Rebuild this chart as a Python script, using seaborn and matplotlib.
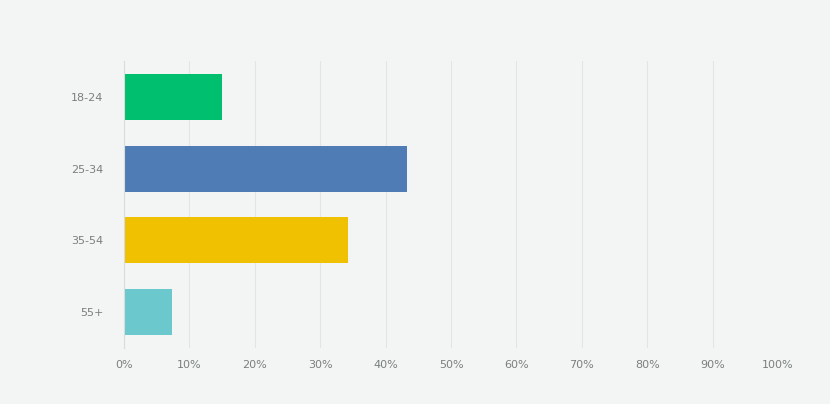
import matplotlib
matplotlib.use("Agg")
import matplotlib.pyplot as plt
from matplotlib.ticker import FuncFormatter
import seaborn as sns
import pandas as pd

age_groups = ["18-24", "25-34", "35-54", "55+"]
shares = [15.0, 43.2, 34.3, 7.3]
bar_colors = ["#00BF6F", "#507CB6", "#F0C100", "#6BC8CD"]
x_ticks = [0, 10, 20, 30, 40, 50, 60, 70, 80, 90, 100]

bg = "#F2F5F3"
sns.set_theme(style="white")
plt.rcParams["font.family"] = ["DejaVu Sans"]

df = pd.DataFrame({"age": age_groups, "share": shares})

fig = plt.figure(figsize=(8.3, 4.04), dpi=100, facecolor=bg)
ax = fig.add_axes([0.1494, 0.139, 0.788, 0.71])
ax.set_facecolor(bg)

sns.barplot(data=df, x="share", y="age", hue="age", palette=bar_colors,
            order=age_groups, hue_order=age_groups, width=0.64,
            legend=False, ax=ax, saturation=1, linewidth=0)

ax.set_xlim(0, 100)
ax.set_xticks(x_ticks)
ax.xaxis.set_major_formatter(FuncFormatter(lambda v, _: f"{v:.0f}%"))
ax.set_xlabel("")
ax.set_ylabel("")
ax.grid(axis="x", color="#E1E5E3", linewidth=0.8)
ax.set_axisbelow(True)
for side in ["top", "right", "bottom"]:
    ax.spines[side].set_visible(False)
ax.spines["left"].set_color("#D8DCDB")
ax.spines["left"].set_linewidth(0.8)
ax.tick_params(axis="both", length=0, labelsize=8, labelcolor="#7A7F7E")
ax.tick_params(axis="y", pad=15)
ax.tick_params(axis="x", pad=9)

fig.savefig("out.png", dpi=100, facecolor=bg)
